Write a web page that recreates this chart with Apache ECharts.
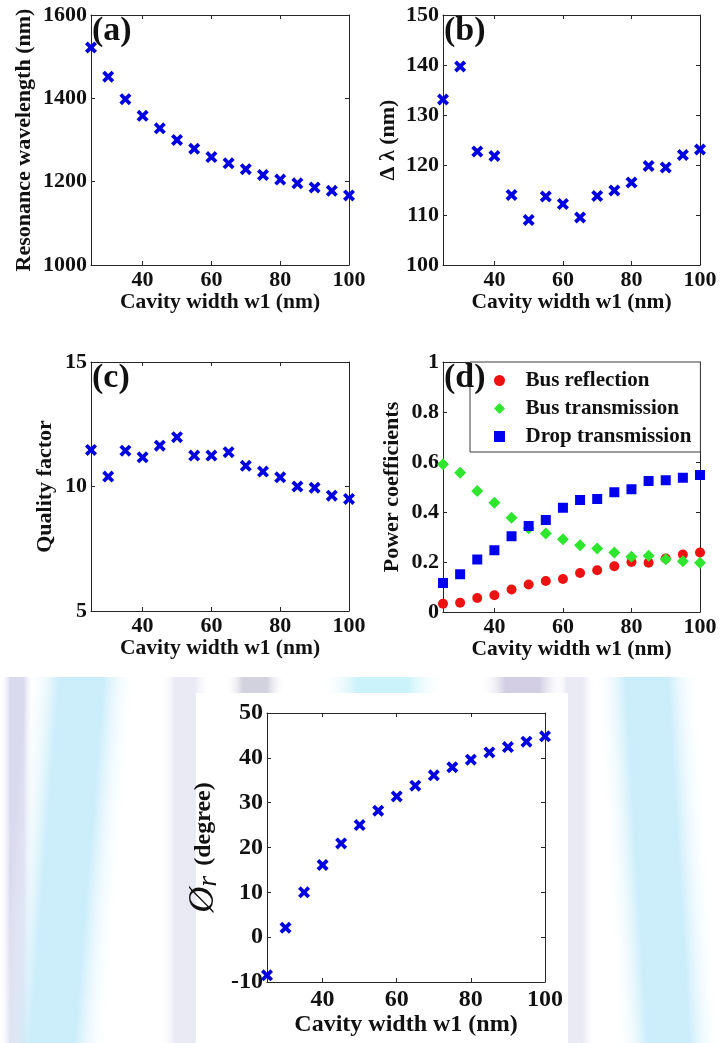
<!DOCTYPE html>
<html>
<head>
<meta charset="utf-8">
<script src="https://cdn.jsdelivr.net/npm/echarts@6/dist/echarts.min.js"></script>
<style>
  html, body { margin: 0; padding: 0; background: #ffffff; }
  #chart { width: 721px; height: 1043px; }
</style>
</head>
<body>
<div id="chart"></div>
<script>
// Cavity width w1 (nm)
const cavityWidth = [25, 30, 35, 40, 45, 50, 55, 60, 65, 70, 75, 80, 85, 90, 95, 100];
const xTickValues = [40, 60, 80, 100];

// (a) resonance wavelength (nm)
const resonanceWavelength = [1522, 1452, 1398, 1358, 1328, 1300, 1279, 1259, 1244, 1230, 1216, 1205, 1196, 1186, 1178, 1167];
// (b) bandwidth Δλ (nm)
const deltaLambda = [133.1, 139.7, 122.7, 121.8, 114.0, 109.0, 113.7, 112.2, 109.5, 113.8, 114.9, 116.5, 119.8, 119.5, 122.0, 123.1];
// (c) quality factor
const qualityFactor = [11.47, 10.4, 11.44, 11.17, 11.64, 11.98, 11.24, 11.24, 11.38, 10.83, 10.6, 10.37, 10.0, 9.95, 9.63, 9.5];
// (d) power coefficients
const busReflection = [0.033, 0.037, 0.056, 0.067, 0.09, 0.11, 0.124, 0.132, 0.156, 0.167, 0.183, 0.2, 0.197, 0.214, 0.23, 0.238];
const busTransmission = [0.591, 0.557, 0.484, 0.437, 0.377, 0.335, 0.314, 0.291, 0.267, 0.254, 0.238, 0.221, 0.225, 0.211, 0.203, 0.197];
const dropTransmission = [0.116, 0.151, 0.21, 0.247, 0.303, 0.344, 0.368, 0.417, 0.448, 0.452, 0.479, 0.491, 0.524, 0.527, 0.537, 0.548];
// (e) reflection phase (degree)
const reflectionPhase = [-8.5, 2.1, 10.0, 16.1, 20.9, 25.0, 28.2, 31.4, 33.8, 36.1, 37.9, 39.6, 41.2, 42.4, 43.6, 44.8];

const FONT = "'Liberation Serif', 'Times New Roman', serif";
const INK = '#111111';
const FRAME = '#262626';
const MARK_BLUE = '#0000e0';
const CROSS = 'path://M0,2.2 L2.2,0 L5,2.8 L7.8,0 L10,2.2 L7.2,5 L10,7.8 L7.8,10 L5,7.2 L2.2,10 L0,7.8 L2.8,5 Z';

const pairs = ys => cavityWidth.map((x, i) => [x, ys[i]]);

// plot boxes, in page pixels, with per-panel text sizes
const panels = [
  { left: 91,  top: 15,  width: 258, height: 250, min: 1000, max: 1600, interval: 200, name: 'Resonance wavelength (nm)', nameGap: 56, tick: 22, title: 21.5, xMargin: 4, xGap: 26 },
  { left: 443, top: 15,  width: 257, height: 250, min: 100,  max: 150,  interval: 10,  name: 'Δ λ (nm)', nameGap: 44, tick: 22, title: 21.5, xMargin: 4, xGap: 26 },
  { left: 91,  top: 362, width: 258, height: 249, min: 5,    max: 15,   interval: 5,   name: 'Quality factor', nameGap: 35, tick: 22, title: 21.5, xMargin: 4, xGap: 26 },
  { left: 443, top: 362, width: 257, height: 250, min: 0,    max: 1,    interval: 0.2, name: 'Power coefficients', nameGap: 40, tick: 22, title: 21.5, xMargin: 4, xGap: 26 },
  { left: 267, top: 713, width: 278, height: 269, min: -10,  max: 50,   interval: 10,  name: '{phi|Ø}{sub|r} (degree)', nameGap: 44, tick: 24, title: 24, xMargin: 6, xGap: 31 }
];

const grid = [];
const xAxis = [];
const yAxis = [];

const tickStyle = { color: FRAME, width: 1 };
const plain = v => String(v);

panels.forEach((p, g) => {
  const labelStyle = { fontFamily: FONT, fontWeight: 'bold', fontSize: p.tick, color: INK };
  grid.push({ left: p.left, top: p.top, width: p.width, height: p.height, containLabel: false, z: 10 });
  // bottom axis with labels
  xAxis.push({
    type: 'value', gridIndex: g, min: 25, max: 100, position: 'bottom', z: 10,
    axisLine: { show: true, onZero: false, lineStyle: tickStyle },
    axisTick: { show: true, inside: true, length: 4, customValues: xTickValues, lineStyle: tickStyle },
    axisLabel: Object.assign({ customValues: xTickValues, margin: p.xMargin, formatter: plain }, labelStyle),
    splitLine: { show: false },
    name: 'Cavity width w1 (nm)', nameLocation: 'middle', nameGap: p.xGap,
    nameTextStyle: { fontFamily: FONT, fontWeight: 'bold', fontSize: p.title, color: INK }
  });
  // top frame edge
  xAxis.push({
    type: 'value', gridIndex: g, min: 25, max: 100, position: 'top', z: 10,
    axisLine: { show: true, onZero: false, lineStyle: tickStyle },
    axisTick: { show: true, inside: true, length: 4, customValues: xTickValues, lineStyle: tickStyle },
    axisLabel: { show: false },
    splitLine: { show: false }
  });
  const nameStyle = { fontFamily: FONT, fontWeight: 'bold', fontSize: g === 4 ? 24 : 22, color: INK };
  if (g === 4) {
    nameStyle.rich = {
      phi: { fontFamily: FONT, fontStyle: 'italic', fontWeight: 'normal', fontSize: 36, color: INK },
      sub: { fontFamily: FONT, fontStyle: 'italic', fontWeight: 'normal', fontSize: 28, color: INK, verticalAlign: 'bottom', padding: [10, 4, 0, 0] }
    };
    nameStyle.padding = [0, 0, 0, 0];
  }
  yAxis.push({
    type: 'value', gridIndex: g, min: p.min, max: p.max, interval: p.interval, position: 'left', z: 10,
    axisLine: { show: true, onZero: false, lineStyle: tickStyle },
    axisTick: { show: true, inside: true, length: 4, lineStyle: tickStyle },
    axisLabel: Object.assign({ margin: 4, formatter: plain }, labelStyle),
    splitLine: { show: false },
    name: p.name, nameLocation: 'middle', nameGap: p.nameGap, nameRotate: 90,
    nameTextStyle: nameStyle
  });
  yAxis.push({
    type: 'value', gridIndex: g, min: p.min, max: p.max, interval: p.interval, position: 'right', z: 10,
    axisLine: { show: true, onZero: false, lineStyle: tickStyle },
    axisTick: { show: true, inside: true, length: 4, lineStyle: tickStyle },
    axisLabel: { show: false },
    splitLine: { show: false }
  });
});

const crossSeries = (name, ys, g) => ({
  name, type: 'scatter', xAxisIndex: 2 * g, yAxisIndex: 2 * g,
  data: pairs(ys), symbol: CROSS, symbolSize: 12,
  itemStyle: { color: MARK_BLUE, opacity: 1 }, silent: true, z: 12
});

const series = [
  crossSeries('Resonance wavelength', resonanceWavelength, 0),
  crossSeries('Δλ', deltaLambda, 1),
  crossSeries('Quality factor', qualityFactor, 2),
  {
    name: 'Bus reflection', type: 'scatter', xAxisIndex: 6, yAxisIndex: 6,
    data: pairs(busReflection), symbol: 'circle', symbolSize: 10,
    itemStyle: { color: '#ee1111', opacity: 1 }, silent: true, z: 12
  },
  {
    name: 'Bus transmission', type: 'scatter', xAxisIndex: 6, yAxisIndex: 6,
    data: pairs(busTransmission), symbol: 'diamond', symbolSize: 12,
    itemStyle: { color: '#2ee62e', opacity: 1 }, silent: true, z: 13
  },
  {
    name: 'Drop transmission', type: 'scatter', xAxisIndex: 6, yAxisIndex: 6,
    data: pairs(dropTransmission), symbol: 'rect', symbolSize: 10,
    itemStyle: { color: '#0000ee', opacity: 1 }, silent: true, z: 14
  },
  crossSeries('Reflection phase', reflectionPhase, 4)
];

// soft coloured streaks behind the lower figure
const band = (x, y, w, h, color, rot, ox, oy) => ({
  type: 'rect', z: 0, silent: true,
  shape: { x, y, width: w, height: h },
  rotation: rot || 0, originX: ox, originY: oy,
  style: {
    fill: {
      type: 'linear', x: 0, y: 0, x2: 1, y2: 0,
      colorStops: [
        { offset: 0, color: 'rgba(255,255,255,0)' },
        { offset: 0.3, color: color },
        { offset: 0.7, color: color },
        { offset: 1, color: 'rgba(255,255,255,0)' }
      ]
    }
  }
});

const panelLabel = (text, left, top) => ({
  type: 'text', left, top, z: 100, silent: true,
  style: { text, fontFamily: FONT, fontWeight: 'bold', fontSize: 34, fill: INK }
});

const graphic = [
  // streaks
  band(0, 677, 34, 366, 'rgba(214,214,236,0.9)'),
  band(12, 640, 110, 440, 'rgba(198,235,250,0.9)', -0.08, 67, 860),
  band(160, 677, 50, 366, 'rgba(228,228,242,0.8)'),
  band(555, 677, 40, 366, 'rgba(228,228,242,0.8)'),
  band(605, 640, 105, 440, 'rgba(198,235,250,0.9)', 0.06, 660, 860),
  band(225, 677, 60, 16, 'rgba(205,205,220,0.9)'),
  band(320, 677, 125, 16, 'rgba(200,242,250,0.95)'),
  band(480, 677, 85, 16, 'rgba(205,200,224,0.9)'),
  // white page above and the panel box below
  { type: 'rect', z: 1, silent: true, shape: { x: 0, y: 0, width: 721, height: 677 }, style: { fill: '#ffffff' } },
  { type: 'rect', z: 1, silent: true, shape: { x: 196, y: 693, width: 372, height: 350 }, style: { fill: '#ffffff' } },
  panelLabel('(a)', 92, 14),
  panelLabel('(b)', 444, 14),
  panelLabel('(c)', 92, 361),
  panelLabel('(d)', 444, 361)
];

const chart = echarts.init(document.getElementById('chart'), null, { renderer: 'canvas' });
chart.setOption({
  animation: false,
  backgroundColor: '#ffffff',
  grid, xAxis, yAxis, series, graphic,
  legend: {
    show: true,
    orient: 'vertical',
    left: 470, top: 362,
    padding: [8, 9, 5, 24],
    itemWidth: 42, itemHeight: 11, itemGap: 7,
    backgroundColor: '#ffffff',
    borderColor: '#3a3a3a', borderWidth: 1,
    selectedMode: false,
    z: 20,
    textStyle: { fontFamily: FONT, fontWeight: 'bold', fontSize: 21, color: INK },
    data: [
      { name: 'Bus reflection', icon: 'path://M5,0 A5,5 0 1,1 5,10 A5,5 0 1,1 5,0 Z' },
      { name: 'Bus transmission', icon: 'path://M5,0 L10,5 L5,10 L0,5 Z' },
      { name: 'Drop transmission', icon: 'path://M0,0 L9,0 L9,9 L0,9 Z' }
    ]
  }
});
</script>
</body>
</html>
